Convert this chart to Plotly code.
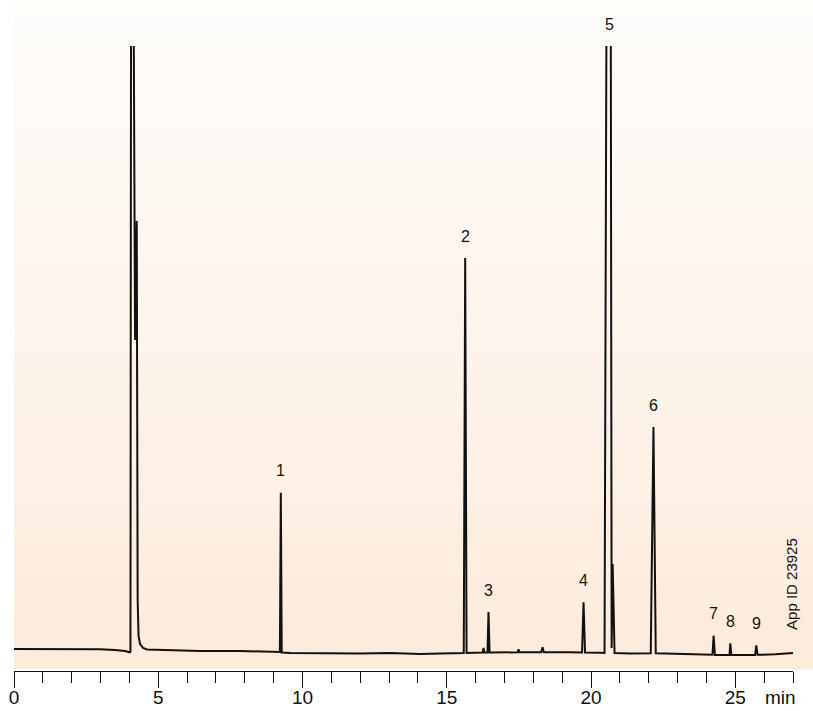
import plotly.graph_objects as go

# ---- data (time in min, detector signal in arbitrary units) ----
time_min = [0.000, 1.595, 2.982, 3.502, 3.849, 4.015, 4.036, 4.057, 4.144, 4.196, 4.254, 4.286,
            4.317, 4.369, 4.473, 4.612, 5.062, 5.583, 6.449, 7.836, 8.877, 9.216, 9.248, 9.279,
            9.570, 10.610, 11.997, 13.037, 14.078, 14.771, 15.589, 15.638, 15.686, 16.245, 16.273,
            16.300, 16.411, 16.446, 16.484, 17.458, 17.486, 17.517, 18.273, 18.318, 18.363, 19.279,
            19.688, 19.740, 19.792, 20.319, 20.468, 20.538, 20.673, 20.683, 20.714, 20.749, 20.815,
            21.359, 22.070, 22.164, 22.243, 23.093, 23.786, 24.209, 24.248, 24.293, 24.799, 24.827,
            24.861, 25.686, 25.728, 25.770, 26.387, 27.050]
signal = [3.52, 3.52, 3.47, 3.36, 3.20, 2.99, 3.10, 110.0, 110.0, 52.96, 72.0, 11.36,
          5.60, 4.32, 3.68, 3.44, 3.36, 3.31, 3.20, 3.20, 3.12, 3.04, 28.53, 2.96,
          2.88, 2.80, 2.80, 2.88, 2.72, 2.80, 2.88, 66.08, 2.88, 2.96, 3.68,
          2.96, 2.96, 9.44, 2.96, 2.99, 3.47, 2.99, 2.99, 3.79, 2.99, 2.99,
          2.96, 10.99, 2.96, 2.91, 2.88, 110.0, 110.0, 110.0, 3.68, 17.12, 2.88,
          2.80, 2.83, 39.04, 2.83, 2.75, 2.67, 2.59, 5.65, 2.56, 2.56, 4.43,
          2.56, 2.56, 4.11, 2.59, 2.67, 2.88]

peak_labels = ["1", "2", "3", "4", "5", "6", "7", "8", "9"]
peak_times = [9.248, 15.638, 16.446, 19.740, 20.63, 22.164, 24.248, 24.827, 25.728]
peak_heights = [28.53, 66.08, 9.44, 10.99, 110.0, 39.04, 5.65, 4.43, 4.11]

tick_values = [0, 5, 10, 15, 20, 25]
tick_labels = ["0", "5", "10", "15", "20", "25"]
x_range = [0, 27]
y_range = [0, 100]

FONT = "Liberation Sans, Arial, sans-serif"

fig = go.Figure()
fig.add_trace(go.Scatter(x=time_min, y=signal, mode="lines",
                         line=dict(color="#111111", width=2),
                         hoverinfo="skip", showlegend=False))

# peak numbers
for lab, t, h in zip(peak_labels, peak_times, peak_heights):
    fig.add_annotation(x=t, y=min(h, y_range[1]), text=lab, showarrow=False,
                       xref="x", yref="y", yanchor="middle", yshift=22,
                       font=dict(family=FONT, size=16, color="#111111"))

# unit label on the time axis
fig.add_annotation(x=26.55, y=-0.042, xref="x", yref="paper", text="min", showarrow=False,
                   yanchor="middle", font=dict(family=FONT, size=19, color="#111111"))

# App ID (rotated)
fig.add_annotation(x=0.998, y=0.14, xref="paper", yref="paper", text="App ID 23925",
                   showarrow=False, textangle=-90, xanchor="center", yanchor="middle",
                   font=dict(family=FONT, size=15, color="#111111"))

# vertical gradient background (white at top -> peach at bottom)
top_c = (254, 253, 251)
bot_c = (253, 235, 220)
n = 60
y0p, y1p = 0.003, 1.08
for i in range(n):
    f0 = i / n
    f1 = (i + 1) / n
    fm = (f0 + f1) / 2
    c = tuple(round(bot_c[k] + (top_c[k] - bot_c[k]) * fm) for k in range(3))
    fig.add_shape(type="rect", xref="paper", yref="paper",
                  x0=0, x1=1.03, y0=y0p + (y1p - y0p) * f0, y1=y0p + (y1p - y0p) * f1 + 0.002,
                  fillcolor="rgb(%d,%d,%d)" % c, line=dict(width=0), layer="below")

fig.update_layout(
    width=813, height=711,
    margin=dict(l=14, r=20, t=46, b=40, autoexpand=False),
    paper_bgcolor="white", plot_bgcolor="rgba(0,0,0,0)",
    xaxis=dict(range=x_range, showgrid=False, zeroline=False, automargin=False,
               showline=True, linecolor="#111111", linewidth=1.4,
               tickmode="array", tickvals=tick_values, ticktext=tick_labels,
               ticks="outside", ticklen=16, tickwidth=1.3, tickcolor="#111111",
               ticklabelstandoff=-7,
               tickfont=dict(family=FONT, size=19, color="#111111"),
               minor=dict(dtick=1, tick0=0, ticks="outside", ticklen=11,
                          tickwidth=1.2, tickcolor="#111111", showgrid=False),
               fixedrange=True),
    yaxis=dict(range=y_range, visible=False, fixedrange=True, automargin=False),
    showlegend=False,
)

fig.write_html("out.html", config={"displayModeBar": False},
               post_script="document.body.style.margin='0';document.body.style.overflow='hidden';")
